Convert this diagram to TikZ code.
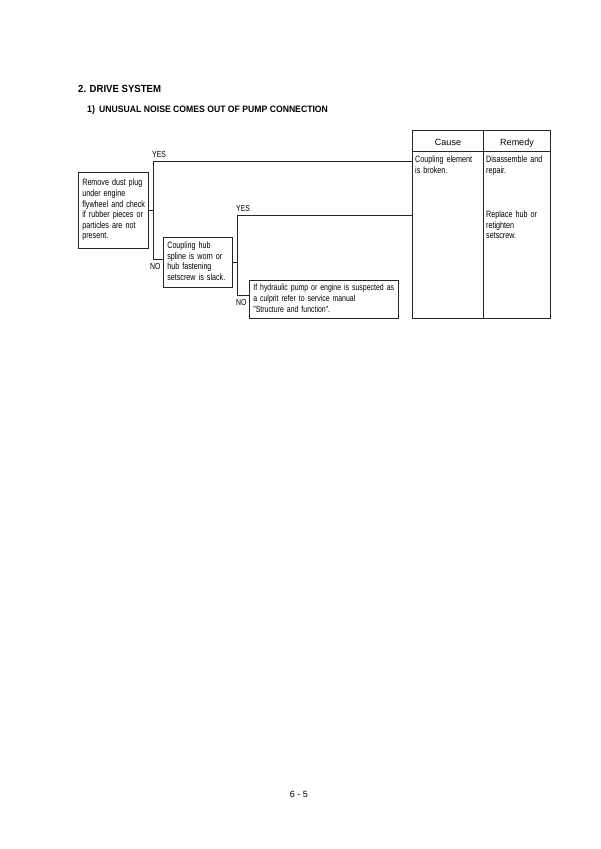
\documentclass[tikz,border=0pt]{standalone}
\usepackage{fontspec}
\setmainfont{Liberation Sans}
\newfontfamily\narrow[FakeStretch=0.78]{Liberation Sans}
\newfontfamily\narrowbold[FakeStretch=0.93]{Liberation Sans Bold}
\newcommand\tl[1]{\begin{tabular}{@{}l@{}}#1\end{tabular}}
\newcommand\bodyfont{\narrow\fontsize{9.2}{10.6}\selectfont}
\begin{document}
\begin{tikzpicture}[x=1pt,y=-1pt,
  every node/.style={inner sep=0pt},
  line/.style={draw=black!85, line width=0.55pt},
  lbl/.style={font=\narrow\fontsize{8.8}{10}\selectfont, text=black, anchor=base west},
  box/.style={draw=black!85, line width=0.65pt, anchor=north west, align=left,
    font=\bodyfont, text=black, inner xsep=4pt},
  cell/.style={anchor=north west, align=left, font=\bodyfont,
    text=black, text width=66pt, inner xsep=3pt, inner ysep=2pt},
  head/.style={font=\fontsize{9}{11}\selectfont, text=black, anchor=base}
]
\useasboundingbox (0,0) rectangle (600,849);

% titles
\node[anchor=base west, font=\narrowbold\fontsize{10.3}{12}\selectfont] (t1) at (78,92) {2. DRIVE SYSTEM};
\node[anchor=base west, font=\narrowbold\fontsize{9.5}{12}\selectfont] (t2n) at (87,112) {1)};
\node[anchor=base west, font=\narrowbold\fontsize{9.3}{12}\selectfont] (t2) at (99,112) {UNUSUAL NOISE COMES OUT OF PUMP CONNECTION};

% decision boxes
\node[box, text width=62pt, minimum height=76pt] (b1) at (78,172)
  {\tl{Remove dust plug\\ under engine\\ flywheel and check\\ if rubber pieces or\\ particles are not\\ present.}};
\node[box, text width=61pt, minimum height=50pt] (b2) at (163,237)
  {\tl{Coupling hub\\ spline is worn or\\ hub fastening\\ setscrew is slack.}};
\node[box, text width=141pt, minimum height=38pt, font=\narrow\fontsize{8.9}{10.6}\selectfont] (b3) at (249,280)
  {\tl{If hydraulic pump or engine is suspected as\\ a culprit refer to service manual\\ "Structure and function".}};

% cause / remedy table
\node[draw=black!85, line width=0.6pt, anchor=north west, minimum width=138pt, minimum height=188pt] (tbl) at (412,130) {};
\coordinate (hdl) at (412,151);
\coordinate (div) at (483,130);
\draw[line] (hdl) -- (hdl -| tbl.east);
\draw[line] (div) -- (div |- tbl.south);
\node[head] (hc) at (448,145) {Cause};
\node[head] (hr) at (517,145) {Remedy};
\node[cell] (c1) at (412,153) {\tl{Coupling element\\ is broken.}};
\node[cell] (r1) at (483,153) {\tl{Disassemble and\\ repair.}};
\node[cell] (r2) at (483,208) {\tl{Replace hub or\\ retighten\\ setscrew.}};

% connectors
\coordinate (v1t) at (153,161);
\coordinate (v1b) at (153,259);
\coordinate (v2t) at (237,215);
\coordinate (v2b) at (237,295);
\draw[line] (b1.east) -- (b1.east -| v1t);
\draw[line] (v1t -| tbl.west) -- (v1t) -- (v1b) -- (v1b -| b2.west);
\draw[line] (b2.east) -- (b2.east -| v2t);
\draw[line] (v2t -| tbl.west) -- (v2t) -- (v2b) -- (v2b -| b3.west);

\node[lbl] (y1) at (152,157) {YES};
\node[lbl] (n1) at (150,269) {NO};
\node[lbl] (y2) at (236,211) {YES};
\node[lbl] (n2) at (236,305) {NO};

% page number
\node[head] (pg) at (299,797) {6 - 5};
\end{tikzpicture}
\end{document}
